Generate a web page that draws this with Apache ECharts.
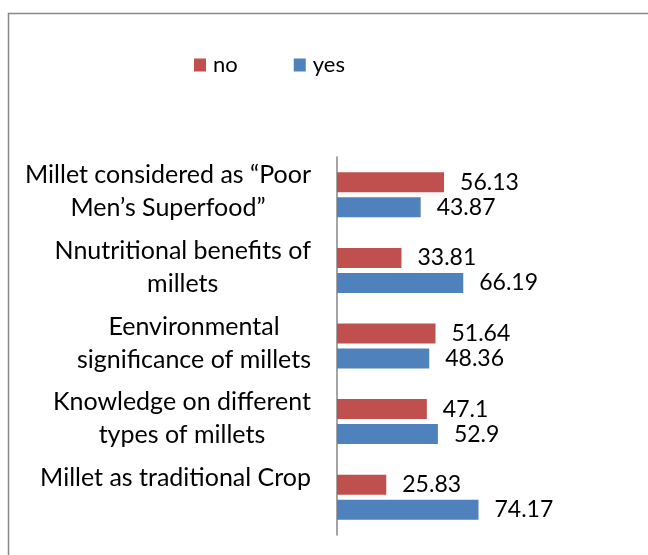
<!DOCTYPE html>
<html>
<head>
<meta charset="utf-8">
<script src="https://cdn.jsdelivr.net/npm/echarts@6/dist/echarts.min.js"></script>
<style>
html,body{margin:0;padding:0;background:#fff;}
#chart{width:648px;height:555px;}
</style>
</head>
<body>
<div id="chart"></div>
<script>
// Categories (top to bottom), with the line breaks used in the original labels
const categories = [
  'Millet considered as \u201cPoor\nMen\u2019s Superfood\u201d',
  'Nnutritional benefits of\nmillets',
  'Eenvironmental\nsignificance of millets',
  'Knowledge on different\ntypes of millets',
  'Millet as traditional Crop'
];
const seriesNames = ['no', 'yes'];
const noValues = [56.13, 33.81, 51.64, 47.1, 25.83];
const yesValues = [43.87, 66.19, 48.36, 52.9, 74.17];

const FONT = 'Lato, "Open Sans", sans-serif';
const chart = echarts.init(document.getElementById('chart'), null, {renderer: 'canvas'});

chart.setOption({
  animation: false,
  backgroundColor: '#ffffff',
  graphic: [{
    type: 'rect',
    silent: true,
    z: -10,
    shape: {x: 8.5, y: 13.5, width: 800, height: 700},
    style: {fill: 'none', stroke: '#888888', lineWidth: 1.5}
  }],
  legend: {
    data: seriesNames,
    left: 194,
    top: 54,
    padding: 0,
    itemWidth: 12,
    itemHeight: 13,
    itemGap: 56,
    icon: 'rect',
    textStyle: {fontFamily: FONT, fontSize: 22, color: '#000', padding: [0, 0, 0, 2]}
  },
  grid: {left: 337, top: 157, width: 152.6, height: 378},
  xAxis: {
    type: 'value', min: 0, max: 80, show: false,
    splitLine: {show: false}
  },
  yAxis: {
    type: 'category',
    data: categories,
    inverse: true,
    axisTick: {show: false},
    axisLine: {show: true, lineStyle: {color: '#868686', width: 1.5}},
    axisLabel: {
      margin: 26,
      align: 'right',
      color: '#000',
      fontFamily: FONT,
      fontSize: 25,
      padding: [0, 0, 6, 0],
      formatter: function (v) {
        const lines = v.split('\n');
        let s = lines.map(l => '{c|' + l + '}').join('\n');
        if (lines.length === 1) s += '\n{c| }';
        return s;
      },
      rich: {
        c: {align: 'center', fontFamily: FONT, fontSize: 25, lineHeight: 33, color: '#000'}
      }
    }
  },
  series: [
    {
      name: 'no', type: 'bar', data: noValues,
      barWidth: 20, barGap: '25%',
      itemStyle: {color: '#C0504D'},
      label: {show: true, position: 'right', distance: 16, color: '#000', fontFamily: FONT, fontSize: 23}
    },
    {
      name: 'yes', type: 'bar', data: yesValues,
      barWidth: 20, barGap: '25%',
      itemStyle: {color: '#4F81BD'},
      label: {show: true, position: 'right', distance: 16, color: '#000', fontFamily: FONT, fontSize: 23}
    }
  ]
});
</script>
</body>
</html>
